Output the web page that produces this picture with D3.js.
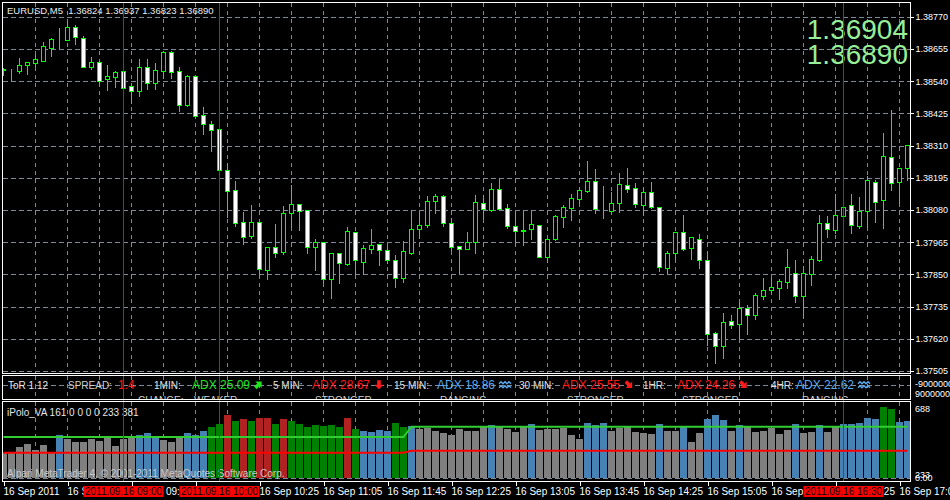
<!DOCTYPE html>
<html>
<head>
<meta charset="utf-8">
<script src="https://cdn.jsdelivr.net/npm/d3@7"></script>
<style>
  html, body { margin: 0; padding: 0; background: #000; }
  svg { display: block; }
  text { font-family: "Liberation Sans", Arial, sans-serif; }
</style>
</head>
<body>
<div id="chart"></div>
<script>
// ---- EURUSD M5 candles, 16 Sep 2011 07:45 .. 17:10 ----
const open = [
  1.38580,1.38580,1.38577,1.38596,1.38606,1.38613,1.38659,1.38684,1.38688,1.38735,
  1.38693,1.38589,1.38610,1.38546,1.38556,1.38575,1.38521,1.38506,1.38589,1.38532,
  1.38577,1.38643,1.38575,1.38456,1.38557,1.38418,1.38386,1.38368,1.38221,1.38150,
  1.38036,1.37988,1.38036,1.37867,1.37949,1.37931,1.38070,1.38100,1.38079,1.37947,
  1.37964,1.37832,1.37925,1.37888,1.38000,1.37895,1.37942,1.37957,1.37936,1.37900,
  1.37836,1.37927,1.38011,1.38025,1.38113,1.38129,1.38032,1.37950,1.37942,1.37964,
  1.38104,1.38080,1.38154,1.38086,1.38021,1.38005,1.38011,1.38025,1.37911,1.37975,
  1.38054,1.38086,1.38120,1.38146,1.38182,1.38077,1.38075,1.38106,1.38168,1.38157,
  1.38096,1.38143,1.38089,1.37874,1.37925,1.38000,1.37945,1.37975,1.37900,1.37642,
  1.37593,1.37682,1.37674,1.37729,1.37706,1.37774,1.37793,1.37803,1.37822,1.37856,
  1.37774,1.37853,1.37902,1.38032,1.38010,1.38060,1.38096,1.38024,1.38075,1.38181,
  1.38117,1.38268,1.38179,1.38229
];
const high = [
  1.38588,1.38583,1.38622,1.38609,1.38633,1.38679,1.38694,1.38729,1.38756,1.38740,
  1.38701,1.38625,1.38613,1.38597,1.38577,1.38577,1.38532,1.38619,1.38619,1.38604,
  1.38649,1.38649,1.38590,1.38562,1.38559,1.38446,1.38396,1.38370,1.38243,1.38182,
  1.38073,1.38098,1.38038,1.37948,1.38030,1.38094,1.38169,1.38102,1.38080,1.37975,
  1.37965,1.37926,1.37926,1.38018,1.38001,1.37954,1.38012,1.37958,1.37949,1.37919,
  1.37969,1.38080,1.38074,1.38130,1.38137,1.38132,1.38051,1.37951,1.38001,1.38133,
  1.38133,1.38177,1.38194,1.38101,1.38073,1.38077,1.38075,1.38026,1.37976,1.38061,
  1.38098,1.38137,1.38160,1.38255,1.38226,1.38165,1.38144,1.38212,1.38230,1.38175,
  1.38157,1.38180,1.38090,1.37932,1.38002,1.38062,1.37985,1.37994,1.37930,1.37643,
  1.37712,1.37705,1.37750,1.37741,1.37785,1.37836,1.37837,1.37832,1.37941,1.37901,
  1.37879,1.37916,1.38062,1.38058,1.38137,1.38093,1.38136,1.38126,1.38201,1.38186,
  1.38354,1.38437,1.38230,1.38312
];
const low = [
  1.38562,1.38544,1.38568,1.38565,1.38595,1.38613,1.38629,1.38658,1.38688,1.38672,
  1.38589,1.38583,1.38534,1.38508,1.38520,1.38516,1.38463,1.38487,1.38512,1.38512,
  1.38550,1.38550,1.38434,1.38451,1.38414,1.38351,1.38292,1.38221,1.38056,1.38024,
  1.37957,1.37981,1.37846,1.37835,1.37913,1.37924,1.38020,1.38008,1.37927,1.37866,
  1.37824,1.37767,1.37820,1.37883,1.37851,1.37851,1.37927,1.37883,1.37889,1.37806,
  1.37824,1.37924,1.37979,1.38020,1.38070,1.38023,1.37937,1.37856,1.37941,1.37927,
  1.38050,1.38077,1.38084,1.38017,1.37961,1.37954,1.37975,1.37912,1.37893,1.37972,
  1.38020,1.38044,1.38106,1.38145,1.38068,1.38052,1.38068,1.38074,1.38144,1.38089,
  1.38063,1.38088,1.37863,1.37856,1.37901,1.37937,1.37906,1.37874,1.37598,1.37535,
  1.37553,1.37660,1.37622,1.37638,1.37692,1.37763,1.37788,1.37763,1.37803,1.37753,
  1.37699,1.37813,1.37899,1.37985,1.37999,1.38059,1.37999,1.38017,1.38019,1.38038,
  1.38017,1.38152,1.38106,1.38187
];
const close = [
  1.38582,1.38581,1.38596,1.38607,1.38618,1.38664,1.38689,1.38685,1.38732,1.38696,
  1.38589,1.38610,1.38541,1.38557,1.38571,1.38516,1.38503,1.38589,1.38532,1.38578,
  1.38643,1.38574,1.38456,1.38557,1.38416,1.38386,1.38366,1.38221,1.38149,1.38032,
  1.37984,1.38036,1.37868,1.37946,1.37927,1.38068,1.38101,1.38077,1.37947,1.37964,
  1.37832,1.37925,1.37889,1.38004,1.37900,1.37943,1.37954,1.37936,1.37900,1.37836,
  1.37932,1.38011,1.38025,1.38111,1.38129,1.38032,1.37947,1.37942,1.37964,1.38107,
  1.38082,1.38154,1.38085,1.38021,1.38004,1.38009,1.38029,1.37913,1.37975,1.38057,
  1.38089,1.38121,1.38150,1.38182,1.38082,1.38075,1.38104,1.38171,1.38154,1.38100,
  1.38143,1.38089,1.37875,1.37925,1.38001,1.37942,1.37982,1.37900,1.37638,1.37593,
  1.37679,1.37670,1.37729,1.37704,1.37775,1.37793,1.37805,1.37825,1.37875,1.37774,
  1.37856,1.37905,1.38032,1.38011,1.38061,1.38092,1.38025,1.38075,1.38186,1.38107,
  1.38271,1.38177,1.38229,1.38311
];

const priceTicks = [1.38770,1.38655,1.38540,1.38425,1.38310,1.38195,1.38080,1.37965,1.37850,1.37735,1.37620,1.37505];

// time axis labels (bar index, text)
const timeIdx = [0,8,16,24,32,40,48,56,64,72,80,88,96,104,112];
const timeLabels = ["16 Sep 2011","16 Sep 08:25","16 Sep 09:05","16 Sep 09:45","16 Sep 10:25","16 Sep 11:05",
  "16 Sep 11:45","16 Sep 12:25","16 Sep 13:05","16 Sep 13:45","16 Sep 14:25","16 Sep 15:05",
  "16 Sep 15:45","16 Sep 16:25","16 Sep 17:05"];

// vertical line objects
const sepIdx = [15, 27, 105];
const sepLabels = ["2011.09.16 09:00", "2011.09.16 10:00", "2011.09.16 16:30"];

// ToR 1.12 panel
const spread = "1.4";
const tfLabels = ["1MIN:", "5 MIN:", "15 MIN:", "30 MIN:", "1HR:", "4HR:"];
const adxValues = [25.09, 28.67, 18.86, 25.55, 24.26, 22.62];
const adxTrend = ["up", "down", "range", "downright", "downright", "range"];
const adxState = ["WEAKER", "STRONGER", "RANGING", "STRONGER", "STRONGER", "RANGING"];

// iPolo_VA panel
const volume = [
  247,247,313,337,280,330,247,430,390,363, 363,390,373,403,320,387,403,427,447,413,
  380,363,403,447,433,470,513,540,630,570, 590,570,603,603,540,590,570,540,513,530,
  523,530,513,603,490,470,457,480,470,550, 513,520,490,503,470,447,433,490,470,470,
  513,530,513,490,463,513,540,480,490,490, 503,430,390,547,530,547,470,503,513,463,
  450,440,540,470,470,513,360,450,590,630, 580,470,530,513,463,470,503,440,480,540,
  450,460,530,460,513,540,540,550,600,590, 713,690,560,570
];
// g = neutral, b = blue, G = green, r = red
const volState = ("gggggggbgggggggggbbbgggbbb" + "GGrGrGrrGr" + "GGGGGGGrGbbbbGGb" +
  "gggggggggbggggbggggggbbbggggggbggbggbbbgbggggggbggbggbbbbbGGbb").split("");
const levelHi = [
  410,410,410,410,410,410,410,410,410,410, 410,410,410,410,410,410,410,410,410,410,
  410,410,410,410,410,410,410,410,410,410, 410,410,410,410,410,410,410,410,410,410,
  410,410,410,410,410,410,410,410,410,410, 410,513,513,513,513,513,513,513,513,513,
  513,513,513,513,513,513,513,513,513,513, 513,513,513,513,513,513,513,513,513,513,
  513,513,513,513,513,513,513,513,513,513, 513,513,513,513,513,513,513,513,513,513,
  513,513,513,513,513,513,513,513,513,513, 513,513,513,513
];
const levelLo = [
  253,253,253,253,253,253,253,253,253,253, 253,253,253,253,253,253,253,253,253,253,
  253,253,253,253,253,253,253,253,253,253, 253,253,253,253,253,253,253,253,253,253,
  253,253,253,253,253,253,253,253,253,253, 253,273,273,273,273,273,273,273,273,273,
  273,273,273,273,273,273,273,273,273,273, 273,273,273,273,273,273,273,273,273,273,
  273,273,273,273,273,273,273,273,273,273, 273,273,273,273,273,273,273,273,273,273,
  273,273,273,273,273,273,273,273,273,273, 273,273,273,273
];

// ---- layout ----
const W = 950, H = 500;
const left = 2.5, right = 910.5;
const pMain = { top: 2.5, bottom: 373.5 };
const pTor = { top: 375.5, bottom: 399.5 };
const pVol = { top: 401.5, bottom: 481.5 };
const gridColor = "#7d8a99";
const lime = "#00ff00";
const px = v => Math.round(v) + 0.5;

const svg = d3.select("#chart").append("svg")
  .attr("width", W).attr("height", H);
svg.append("rect").attr("width", W).attr("height", H).attr("fill", "#000");

const defs = svg.append("defs");
[["clipMain", pMain], ["clipTor", pTor], ["clipVol", pVol]].forEach(([id, p]) => {
  defs.append("clipPath").attr("id", id).append("rect")
    .attr("x", left + 0.5).attr("y", p.top + 0.5)
    .attr("width", right - left - 1).attr("height", p.bottom - p.top - 1);
});

const x = d3.scaleLinear().domain([0, open.length - 1]).range([3.5, 907.5]);
const y = d3.scaleLinear().domain([1.37505, 1.38770]).range([371, 16.7]);
const yv = d3.scaleLinear().domain([0, 688]).range([478, 409.2]);

const gridIdx = d3.range(4, open.length, 4);

// vertical grid in all panels
[pMain, pTor, pVol].forEach(p => {
  svg.append("g")
    .selectAll("line")
    .data(gridIdx)
    .join("line")
    .attr("x1", d => x(d)).attr("x2", d => x(d))
    .attr("y1", p.top).attr("y2", p.bottom)
    .attr("stroke", gridColor)
    .attr("stroke-dasharray", "4,4")
    .attr("shape-rendering", "crispEdges");
});

// horizontal grid, main panel
svg.append("g")
  .selectAll("line")
  .data(priceTicks)
  .join("line")
  .attr("x1", left).attr("x2", right)
  .attr("y1", d => px(y(d))).attr("y2", d => px(y(d)))
  .attr("stroke", gridColor)
  .attr("stroke-dasharray", "5,3")
  .attr("shape-rendering", "crispEdges");

// zero lines in the indicator panels
svg.append("line").attr("x1", left).attr("x2", right).attr("y1", 385.5).attr("y2", 385.5)
  .attr("stroke", gridColor).attr("stroke-dasharray", "5,3").attr("shape-rendering", "crispEdges");
svg.append("line").attr("x1", left).attr("x2", right).attr("y1", px(yv(0))).attr("y2", px(yv(0)))
  .attr("stroke", gridColor).attr("stroke-dasharray", "5,3").attr("shape-rendering", "crispEdges");

// ---- candles ----
const bars = open.map((o, i) => ({ i, o, h: high[i], l: low[i], c: close[i] }));
const gMain = svg.append("g").attr("clip-path", "url(#clipMain)");

const candle = gMain.selectAll("g.candle")
  .data(bars)
  .join("g")
  .attr("class", "candle")
  .attr("shape-rendering", "crispEdges");

candle.append("line")
  .attr("x1", d => x(d.i)).attr("x2", d => x(d.i))
  .attr("y1", d => Math.round(y(d.h))).attr("y2", d => Math.round(y(d.l)) + 1)
  .attr("stroke", lime);

candle.append("rect")
  .attr("x", d => x(d.i) - 2)
  .attr("width", 4)
  .attr("y", d => px(y(Math.max(d.o, d.c))))
  .attr("height", d => Math.max(0, px(y(Math.min(d.o, d.c))) - px(y(Math.max(d.o, d.c)))))
  .attr("fill", d => d.c >= d.o ? "#000" : "#fff")
  .attr("stroke", lime);

// title and big bid/ask
svg.append("text")
  .attr("x", 7).attr("y", 14)
  .attr("font-size", "9.5px")
  .attr("fill", "#ececec")
  .style("white-space", "pre")
  .text("EURUSD,M5  1.36824 1.36937 1.36823 1.36890");

svg.append("text").attr("x", 908).attr("y", 38.5)
  .attr("text-anchor", "end").attr("font-size", "28px").attr("fill", "#98ee98")
  .text("1.36904");
svg.append("text").attr("x", 908).attr("y", 64)
  .attr("text-anchor", "end").attr("font-size", "28px").attr("fill", "#98ee98")
  .text("1.36890");

// ---- ToR panel ----
const gTor = svg.append("g").attr("clip-path", "url(#clipTor)");
const torLabelX = [154, 273, 394, 519, 643, 771];
const torAdxX = [192, 312, 437, 562, 677, 796];
const torIconX = [258.5, 379, 505, 629, 743.5, 864];
const torStateX = [194, 315, 440, 567, 682, 802];
const trendColor = { up: "#1ee61e", down: "#ff1a1a", downright: "#ff1a1a", range: "#5aaaf0" };
const trendAngle = { up: 45, down: 180, downright: 135 };

gTor.append("text").attr("x", 8).attr("y", 388.5).attr("font-size", "10px").attr("fill", "#e6e6e6").text("ToR 1.12");
gTor.append("text").attr("x", 68).attr("y", 388.5).attr("font-size", "10px").attr("fill", "#d0d0d0").text("SPREAD:");
gTor.append("text").attr("x", 118).attr("y", 389).attr("font-size", "12px").attr("fill", "#ff1a1a").text(spread);
gTor.append("text").attr("x", 138).attr("y", 404).attr("font-size", "10px").attr("fill", "#d0d0d0").text("CHANGE:");

gTor.selectAll("text.tf").data(tfLabels).join("text").attr("class", "tf")
  .attr("x", (d, i) => torLabelX[i]).attr("y", 388.5)
  .attr("font-size", "10px").attr("fill", "#e0e0e0")
  .text(d => d);

gTor.selectAll("text.adx").data(adxValues).join("text").attr("class", "adx")
  .attr("x", (d, i) => torAdxX[i]).attr("y", 389)
  .attr("font-size", "12px")
  .attr("fill", (d, i) => trendColor[adxTrend[i]])
  .text(d => "ADX " + d3.format(".2f")(d));

gTor.selectAll("text.state").data(adxState).join("text").attr("class", "state")
  .attr("x", (d, i) => torStateX[i]).attr("y", 404)
  .attr("font-size", "10px").attr("fill", "#d0d0d0")
  .text(d => d);

const arrowPts = "0,-4.5 4.5,0 1.8,0 1.8,4.5 -1.8,4.5 -1.8,0 -4.5,0";
adxTrend.forEach((t, i) => {
  const g = gTor.append("g").attr("transform", `translate(${torIconX[i]},384.7)`);
  if (t === "range") {
    g.append("path")
      .attr("d", "M-6,-1 l2,-2 l2,2 l2,-2 l2,2 l2,-2 l2,2 M-6,3 l2,-2 l2,2 l2,-2 l2,2 l2,-2 l2,2")
      .attr("fill", "none").attr("stroke", trendColor[t]).attr("stroke-width", 1.4);
  } else {
    g.append("polygon").attr("points", arrowPts)
      .attr("transform", `rotate(${trendAngle[t]})`)
      .attr("fill", trendColor[t]);
  }
});

// ---- iPolo_VA panel ----
const volColor = { g: "#808080", b: "#4682b4", G: "#008000", r: "#b22222" };
const gVol = svg.append("g").attr("clip-path", "url(#clipVol)");

gVol.append("g")
  .attr("shape-rendering", "crispEdges")
  .selectAll("rect")
  .data(volume)
  .join("rect")
  .attr("x", (d, i) => x(i) - 3.5)
  .attr("width", 7)
  .attr("y", d => Math.round(yv(d)))
  .attr("height", d => yv(0) - Math.round(yv(d)))
  .attr("fill", (d, i) => volColor[volState[i]]);

const lvl = d3.line().x((d, i) => x(i)).y(d => yv(d));
gVol.append("path").datum(levelLo).attr("d", lvl)
  .attr("fill", "none").attr("stroke", "#ff0000").attr("stroke-width", 2);
gVol.append("path").datum(levelHi).attr("d", lvl)
  .attr("fill", "none").attr("stroke", "#32cd32").attr("stroke-width", 2);

gVol.append("text").attr("x", 7).attr("y", 416).attr("font-size", "10px").attr("fill", "#e6e6e6")
  .text("iPolo_VA 161 0 0 0 0 233 381");
gVol.append("text").attr("x", 7).attr("y", 477).attr("font-size", "10px").attr("fill", "#c8c8c8")
  .text("Alpari MetaTrader 4, © 2001-2011 MetaQuotes Software Corp.");

// ---- vertical line objects ----
svg.append("g")
  .selectAll("line")
  .data(sepIdx)
  .join("line")
  .attr("x1", d => x(d)).attr("x2", d => x(d))
  .attr("y1", pMain.top).attr("y2", pVol.bottom)
  .attr("stroke", "#ff0000")
  .attr("shape-rendering", "crispEdges");

// ---- panel frames ----
[pMain, pTor, pVol].forEach(p => {
  svg.append("rect")
    .attr("x", left).attr("y", p.top)
    .attr("width", right - left).attr("height", p.bottom - p.top)
    .attr("fill", "none").attr("stroke", "#fff")
    .attr("shape-rendering", "crispEdges");
});

// ---- price axis ----
const yAxis = d3.axisRight(y)
  .tickValues(priceTicks)
  .tickSize(3)
  .tickPadding(2)
  .tickFormat(d3.format(".5f"));
const gY = svg.append("g").attr("transform", `translate(${right},0)`).call(yAxis);
gY.select(".domain").remove();
gY.selectAll("line").attr("stroke", "#fff").attr("shape-rendering", "crispEdges");
gY.selectAll("text").attr("fill", "#fff").attr("font-size", "9px")
  .attr("font-family", "Liberation Sans, Arial, sans-serif");

// indicator scale labels
const sideLabels = [["-9000000", 386.7], ["9000000", 397.3], ["688", 412.3], ["233", 477.5], ["0.00", 481]];
svg.append("g").selectAll("text").data(sideLabels).join("text")
  .attr("x", 915).attr("y", d => d[1])
  .attr("font-size", "9px").attr("fill", "#fff")
  .text(d => d[0]);

// ---- time axis ----
const xAxis = d3.axisBottom(x)
  .tickValues(timeIdx)
  .tickSize(4)
  .tickPadding(2)
  .tickFormat((d, i) => timeLabels[i]);
const gX = svg.append("g").attr("transform", `translate(0,${pVol.bottom})`).call(xAxis);
gX.select(".domain").remove();
gX.selectAll("line").attr("stroke", "#fff").attr("shape-rendering", "crispEdges");
gX.selectAll("text").attr("fill", "#fff").attr("font-size", "10px")
  .attr("text-anchor", "start").attr("dx", "-0.5")
  .attr("font-family", "Liberation Sans, Arial, sans-serif");

// red labels of the vertical lines
const gSep = svg.append("g");
gSep.selectAll("rect").data(sepIdx).join("rect")
  .attr("x", d => x(d) - 40).attr("y", 486)
  .attr("width", 80).attr("height", 11)
  .attr("fill", "#ff0000");
gSep.selectAll("text").data(sepIdx).join("text")
  .attr("x", d => x(d)).attr("y", 495)
  .attr("text-anchor", "middle")
  .attr("font-size", "10px").attr("fill", "#000")
  .text((d, i) => sepLabels[i]);
</script>
</body>
</html>
